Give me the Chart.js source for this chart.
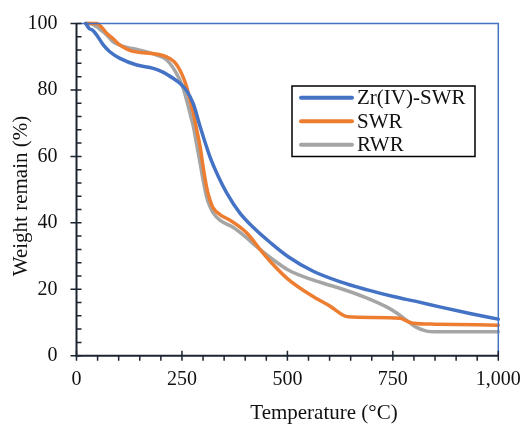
<!DOCTYPE html>
<html>
<head>
  <meta charset="utf-8">
  <title>TGA</title>
  <script src="https://cdn.jsdelivr.net/npm/chart.js@4.4.0/dist/chart.umd.min.js"></script>
  <style>
    html, body { margin: 0; padding: 0; background: #fff; }
    #wrap { width: 523px; height: 426px; }
  </style>
</head>
<body>
  <div id="wrap"><canvas id="myChart" width="523" height="426"></canvas></div>

  <script>
    // series values (temperature in °C, weight in %)
    var zrTemp = [22, 30, 38, 48, 64, 79, 103, 143, 182, 206, 229, 245, 261, 277, 293, 316, 336, 356, 387, 420, 460, 502, 560, 624, 690, 751, 810, 861, 930, 1000];
    var zrWeight = [100, 98.5, 98, 96.5, 93.5, 91.5, 89.5, 87.5, 86.5, 85.3, 83.5, 82, 79.8, 75.8, 69, 60, 54, 49, 43, 38.5, 34, 29.8, 25.5, 22.3, 19.8, 17.8, 16.2, 14.7, 12.8, 11];

    var swrTemp = [22, 48, 60, 72, 87, 103, 120, 134, 160, 198, 221, 235, 245, 254, 261, 269, 277, 285, 293, 300, 308, 316, 324, 340, 364, 387, 405, 420, 435, 460, 502, 561, 600, 644, 700, 767, 782, 798, 850, 1000];
    var swrWeight = [100, 100, 98.8, 97, 95.4, 93.5, 92.3, 91.6, 91.2, 90.6, 89.5, 88, 86, 83.5, 81, 77, 73, 68, 63, 57, 51, 47, 44.5, 42.5, 40.8, 38.8, 36.8, 34.5, 32, 28.3, 23, 17.8, 15, 11.7, 11.5, 11.3, 10.5, 9.8, 9.5, 9.2];

    var rwrTemp = [22, 32, 48, 60, 72, 87, 103, 120, 150, 190, 214, 237, 250, 261, 269, 277, 285, 293, 300, 308, 316, 324, 340, 372, 387, 405, 420, 460, 502, 560, 624, 680, 735, 760, 782, 805, 830, 850, 1000];
    var rwrWeight = [100, 100, 99, 97.8, 96.5, 94.5, 93.5, 92.8, 92, 90.5, 89, 85, 81.5, 77, 73, 69, 63.5, 58, 53, 48, 45, 43, 40.8, 38.6, 37.2, 35.3, 33.6, 29.5, 25.8, 22.8, 20.3, 17.8, 14.7, 12.8, 10.7, 8.6, 7.4, 7.2, 7.2];

    var seriesNames = ['Zr(IV)-SWR', 'SWR', 'RWR'];
    var seriesColors = ['#4472C4', '#ED7D31', '#A5A5A5'];

    var xTitle = 'Temperature (°C)';
    var yTitle = 'Weight remain (%)';

    function toPoints(xs, ys) {
      var pts = [];
      for (var i = 0; i < xs.length; i++) {
        pts.push({ x: xs[i], y: ys[i] });
      }
      return pts;
    }

    var serif = '"Liberation Serif", "Times New Roman", serif';

    // axes, minor ticks, blue frame on top/right, axis titles
    var framePlugin = {
      id: 'frame',
      afterDatasetsDraw: function (chart) {
        var ctx = chart.ctx;
        var a = chart.chartArea;
        var xs = chart.scales.x;
        var ys = chart.scales.y;
        ctx.save();

        // blue top and right border
        ctx.strokeStyle = '#4472C4';
        ctx.lineWidth = 1.5;
        ctx.beginPath();
        ctx.moveTo(a.left, a.top);
        ctx.lineTo(a.right, a.top);
        ctx.lineTo(a.right, a.bottom);
        ctx.stroke();

        // left and bottom axes
        ctx.strokeStyle = '#1c2331';
        ctx.lineWidth = 2;
        ctx.beginPath();
        ctx.moveTo(a.left, a.top);
        ctx.lineTo(a.left, a.bottom);
        ctx.lineTo(a.right, a.bottom);
        ctx.stroke();

        ctx.lineWidth = 1.5;
        ctx.beginPath();
        // x ticks: minor every 50 below, major every 250 across
        for (var t = 0; t <= 1000; t += 50) {
          var px = xs.getPixelForValue(t);
          if (t % 250 == 0) {
            ctx.moveTo(px, a.bottom - 5);
            ctx.lineTo(px, a.bottom + 5);
          } else {
            ctx.moveTo(px, a.bottom);
            ctx.lineTo(px, a.bottom + 5);
          }
        }
        // y ticks: minor every 4 inside, major every 20 across
        for (var v = 0; v <= 100; v += 4) {
          var py = ys.getPixelForValue(v);
          if (v % 20 == 0) {
            ctx.moveTo(a.left - 6, py);
            ctx.lineTo(a.left + 5, py);
          } else {
            ctx.moveTo(a.left, py);
            ctx.lineTo(a.left + 5, py);
          }
        }
        ctx.stroke();

        // axis titles
        ctx.fillStyle = '#111';
        ctx.font = '21px ' + serif;
        ctx.textAlign = 'center';
        ctx.textBaseline = 'middle';
        ctx.fillText(xTitle, 324, 413);
        ctx.translate(21, 196);
        ctx.rotate(-Math.PI / 2);
        ctx.fillText(yTitle, 0, 0);
        ctx.restore();
      }
    };

    // boxed legend inside the plot
    var legendPlugin = {
      id: 'boxLegend',
      afterDraw: function (chart) {
        var ctx = chart.ctx;
        ctx.save();
        ctx.fillStyle = '#fff';
        ctx.fillRect(292, 86, 183, 70.5);
        ctx.strokeStyle = '#000';
        ctx.lineWidth = 1.5;
        ctx.strokeRect(292, 86, 183, 70.5);
        ctx.font = '21px ' + serif;
        ctx.textAlign = 'left';
        ctx.textBaseline = 'middle';
        chart.data.datasets.forEach(function (ds, i) {
          var y = 97.7 + i * 23.5;
          ctx.strokeStyle = ds.borderColor;
          ctx.lineWidth = 4;
          ctx.lineCap = 'round';
          ctx.beginPath();
          ctx.moveTo(301, y);
          ctx.lineTo(352, y);
          ctx.stroke();
          ctx.fillStyle = '#111';
          ctx.fillText(ds.label, 357, y + 1);
        });
        ctx.restore();
      }
    };

    // keep tick label overflow from shrinking the plot area
    function noPad(s) {
      s.paddingTop = 0;
      s.paddingBottom = 0;
      s.paddingLeft = 0;
      s.paddingRight = 0;
    }

    var ctx = document.getElementById('myChart').getContext('2d');
    var myChart = new Chart(ctx, {
      type: 'line',
      data: {
        datasets: [
          { label: seriesNames[0], data: toPoints(zrTemp, zrWeight), borderColor: seriesColors[0] },
          { label: seriesNames[1], data: toPoints(swrTemp, swrWeight), borderColor: seriesColors[1] },
          { label: seriesNames[2], data: toPoints(rwrTemp, rwrWeight), borderColor: seriesColors[2] }
        ]
      },
      options: {
        responsive: false,
        animation: false,
        events: [],
        layout: { padding: { left: 0, right: 24.7, top: 23.5, bottom: 0 } },
        elements: {
          point: { radius: 0 },
          line: { borderWidth: 3.5, cubicInterpolationMode: 'monotone', fill: false, borderCapStyle: 'round' }
        },
        datasets: { line: { clip: 5 } },
        plugins: {
          legend: { display: false },
          tooltip: { enabled: false }
        },
        scales: {
          x: {
            type: 'linear',
            min: 0,
            max: 1000,
            afterFit: function (s) { s.height = 70.3; noPad(s); },
            grid: { display: false, drawTicks: false },
            border: { display: false },
            ticks: { stepSize: 250, padding: 12, color: '#111', font: { family: serif, size: 20 } }
          },
          y: {
            min: 0,
            max: 100,
            afterFit: function (s) { s.width = 76.5; noPad(s); },
            grid: { display: false, drawTicks: false },
            border: { display: false },
            ticks: { stepSize: 20, padding: 19, color: '#111', font: { family: serif, size: 20 } }
          }
        }
      },
      plugins: [framePlugin, legendPlugin]
    });
  </script>
</body>
</html>
